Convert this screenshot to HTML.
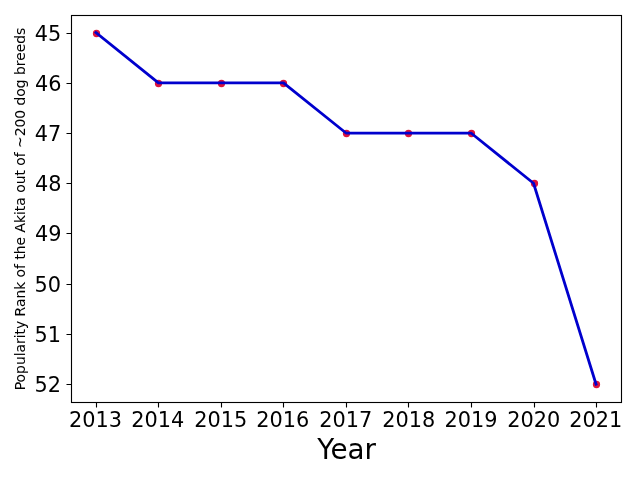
<!DOCTYPE html>
<html lang="en">
<head>
<meta charset="utf-8">
<title>Popularity Rank of the Akita</title>
<style>
html,body{margin:0;padding:0;background:#fff;}
body{width:640px;height:480px;overflow:hidden;}
svg{display:block;}
svg text{font-family:"DejaVu Sans", "Liberation Sans", sans-serif;fill:#000;}
.tick{font-size:20.8333px;}
.xl{font-size:27.7778px;}
.yl{font-size:13.8889px;stroke:#000;stroke-width:0.04px;}
</style>
</head>
<body>
<svg width="640" height="480" viewBox="0 0 640 480">
<rect x="0" y="0" width="640" height="480" fill="#ffffff"/>
<g fill="#dc143c" stroke="#dc143c" stroke-width="1.3889">
<circle cx="96.5" cy="33.5" r="2.946"/>
<circle cx="158.5" cy="83.5" r="2.946"/>
<circle cx="221.5" cy="83.5" r="2.946"/>
<circle cx="283.5" cy="83.5" r="2.946"/>
<circle cx="346.5" cy="133.5" r="2.946"/>
<circle cx="408.5" cy="133.5" r="2.946"/>
<circle cx="471.5" cy="133.5" r="2.946"/>
<circle cx="534.5" cy="183.5" r="2.946"/>
<circle cx="596.5" cy="384.5" r="2.946"/>
</g>
<polyline points="95.909,32.578 158.425,82.802 220.942,82.802 283.458,82.802 345.974,133.025 408.490,133.025 471.007,133.025 533.523,183.248 596.039,384.142" fill="none" stroke="#0000cd" stroke-width="2.7778" stroke-linecap="square" stroke-linejoin="round"/>
<g stroke="#000" stroke-width="1.1111" fill="none">
<path d="M96.5 402V407.5 M158.5 402V407.5 M221.5 402V407.5 M283.5 402V407.5 M346.5 402V407.5 M408.5 402V407.5 M471.5 402V407.5 M534.5 402V407.5 M596.5 402V407.5"/>
<path d="M72 33.5H66.5 M72 83.5H66.5 M72 133.5H66.5 M72 183.5H66.5 M72 233.5H66.5 M72 284.5H66.5 M72 334.5H66.5 M72 384.5H66.5"/>
<rect x="71.5" y="15.5" width="550" height="387" stroke-linejoin="miter"/>
</g>
<g class="tick" text-anchor="middle">
<text x="95.58" y="427.32">2013</text>
<text x="157.74" y="427.32">2014</text>
<text x="220.64" y="427.32">2015</text>
<text x="282.86" y="427.32">2016</text>
<text x="345.73" y="427.32">2017</text>
<text x="408.81" y="427.32">2018</text>
<text x="470.91" y="427.32">2019</text>
<text x="533.85" y="427.32">2020</text>
<text x="595.83" y="427.32">2021</text>
</g>
<text class="xl" text-anchor="middle" x="346.59" y="459.25">Year</text>
<g class="tick" text-anchor="end">
<text x="61.33" y="41.04">45</text>
<text x="61.48" y="90.78">46</text>
<text x="61.36" y="140.98">47</text>
<text x="61.40" y="191.21">48</text>
<text x="61.49" y="241.37">49</text>
<text x="60.94" y="291.74">50</text>
<text x="61.02" y="341.95">51</text>
<text x="60.99" y="392.13">52</text>
</g>
<text class="yl" text-anchor="middle" x="25.246" y="208.991" textLength="362.5" lengthAdjust="spacing" transform="rotate(-90 25.246 208.991)">Popularity Rank of the Akita out of ~200 dog breeds</text>
</svg>
</body>
</html>
